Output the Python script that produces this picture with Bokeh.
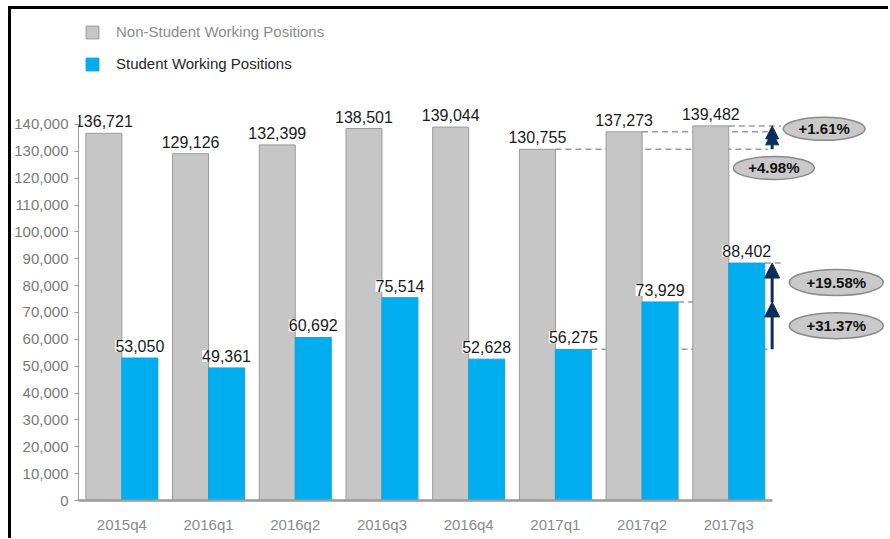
from bokeh.plotting import figure
from bokeh.models import (ColumnDataSource, LabelSet, Legend, LegendItem, FixedTicker,
                          NumeralTickFormatter, CustomJSTickFormatter, Arrow, NormalHead, Range1d)
from bokeh.transform import dodge
from bokeh.embed import file_html
from bokeh.resources import INLINE
from bokeh.core.properties import value

# ---------------- data ----------------
quarters = ["2015q4", "2016q1", "2016q2", "2016q3", "2016q4", "2017q1", "2017q2", "2017q3"]
non_student = [136721, 129126, 132399, 138501, 139044, 130755, 137273, 139482]
student = [53050, 49361, 60692, 75514, 52628, 56275, 73929, 88402]
y_ticks = list(range(0, 140001, 10000))
series_names = ["Non-Student Working Positions", "Student Working Positions"]

FONT = "Liberation Sans"
GRAY = "#c6c6c6"
GRAY_LINE = "#9a9a9a"
BLUE = "#00aeef"
NAVY = "#0c2c5c"
BW = 0.415  # bar width (category units)

n = len(quarters)
xs = list(range(n))

src = ColumnDataSource(dict(
    x=xs, q=quarters, ns=non_student, st=student,
    ns_lbl=[f"{v:,}" for v in non_student],
    st_lbl=[f"{v:,}" for v in student],
))

p = figure(width=888, height=538,
           x_range=Range1d(-0.5, 8.842), y_range=Range1d(0, 181702),
           output_backend="svg", toolbar_location=None,
           min_border_left=78, min_border_right=0, min_border_top=12, min_border_bottom=38)
p.border_fill_alpha = 0
p.styles = {
    "background": "linear-gradient(#000,#000) 8px 6px / 3px calc(100% - 6px) no-repeat, "
                  "linear-gradient(#000,#000) 8px 6px / calc(100% - 8px) 3px no-repeat, white",
}
p.outline_line_color = None
p.grid.visible = False
p.background_fill_color = "white"

# ---------------- dashed reference lines (behind bars) ----------------
last3 = xs[-3:]
seg_x0 = [i for i in last3] + [i + BW for i in last3]
seg_y = non_student[-3:] + student[-3:]
seg_x1 = [last3[-1] + 0.45, last3[-1] + 0.45, last3[-1] + 0.6,
          last3[-1] + 0.45, last3[-1] + 0.45, last3[-1] + 0.6]
p.segment(x0=seg_x0, y0=seg_y, x1=seg_x1, y1=seg_y,
          line_color="#9a9a9a", line_width=1.5, line_dash="6 4")

# ---------------- bars ----------------
g = p.vbar(x=dodge("x", -BW / 2), top="ns", width=BW, source=src,
           fill_color=GRAY, line_color=GRAY_LINE, line_width=1)
b = p.vbar(x=dodge("x", BW / 2), top="st", width=BW, source=src,
           fill_color=BLUE, line_color="#0aa5e0", line_width=1)

# ---------------- value labels ----------------
p.add_layout(LabelSet(x=dodge("x", -BW / 2), y="ns", text="ns_lbl", source=src,
                      y_offset=6, text_align="center", text_baseline="bottom",
                      text_font=value(FONT), text_font_size="16px", text_color="#1a1a1a"))
p.add_layout(LabelSet(x=dodge("x", BW / 2), y="st", text="st_lbl", source=src,
                      y_offset=6, text_align="center", text_baseline="bottom",
                      text_font=value(FONT), text_font_size="16px", text_color="#1a1a1a",
                      background_fill_color="white"))

# ---------------- growth arrows ----------------
ax = last3[-1] + 0.5
pairs = [(non_student[-3], non_student[-2], 13), (non_student[-2], non_student[-1], 13),
         (student[-3], student[-2], 15), (student[-2], student[-1], 15)]
for y0, y1, hs in pairs:
    p.add_layout(Arrow(x_start=ax, y_start=y0, x_end=ax, y_end=y1,
                       line_color=NAVY, line_width=3,
                       end=NormalHead(size=hs, fill_color=NAVY, line_color=NAVY)))

# ---------------- percentage callouts ----------------
def pct(a, b_):
    return f"+{(b_ / a - 1) * 100:.2f}%"

ell_x = [last3[-1] + 1.10, last3[-1] + 0.52, last3[-1] + 1.24, last3[-1] + 1.24]
ell_y = [(non_student[-2] + non_student[-1]) / 2,
         (non_student[-3] + non_student[-2]) / 2 - 10200,
         (student[-2] + student[-1]) / 2,
         (student[-3] + student[-2]) / 2]
ell_t = [pct(non_student[-2], non_student[-1]), pct(non_student[-3], non_student[-2]),
         pct(student[-2], student[-1]), pct(student[-3], student[-2])]
ell_w = [82, 81, 94, 94]
ell_h = [23, 23, 26, 26]
esrc = ColumnDataSource(dict(x=ell_x, y=ell_y, t=ell_t, w=ell_w, h=ell_h))
p.ellipse(x="x", y="y", width="w", height="h", width_units="screen", height_units="screen",
          source=esrc, fill_color="#c9c9c9", line_color="#8a8a8a", line_width=1.5)
p.text(x="x", y="y", text="t", source=esrc, text_align="center", text_baseline="middle",
       text_font=value(FONT), text_font_size="15px", text_font_style="bold", text_color="#111111")

# ---------------- axes ----------------
p.yaxis.ticker = FixedTicker(ticks=y_ticks)
p.yaxis.formatter = NumeralTickFormatter(format="0,0")
p.yaxis.bounds = (0, y_ticks[-1])
p.yaxis.axis_line_color = "#9a9a9a"
p.yaxis.major_tick_line_color = "#9a9a9a"
p.yaxis.major_tick_out = 4
p.yaxis.major_tick_in = 0
p.yaxis.minor_tick_line_color = None
p.yaxis.major_label_text_font = FONT
p.yaxis.major_label_text_font_size = "15px"
p.yaxis.major_label_text_color = "#7a7a7a"
p.yaxis.major_label_standoff = 6

p.xaxis.ticker = FixedTicker(ticks=xs)
p.xaxis.formatter = CustomJSTickFormatter(args=dict(cats=quarters),
                                          code="const i = Math.round(tick); return (i >= 0 && i < cats.length) ? cats[i] : '';")
p.xaxis.bounds = (-0.5, n - 0.5)
p.xaxis.axis_line_color = "#9a9a9a"
p.xaxis.axis_line_width = 2.5
p.xaxis.major_tick_line_color = None
p.xaxis.minor_tick_line_color = None
p.xaxis.major_label_text_font = FONT
p.xaxis.major_label_text_font_size = "15px"
p.xaxis.major_label_text_color = "#8a8a8a"
p.xaxis.major_label_standoff = 9

# ---------------- legends (separate to allow distinct label colours) ----------------
for rend, name, col, loc in [(g, series_names[0], "#8c8c8c", (6, 460)),
                             (b, series_names[1], "#262626", (6, 428))]:
    lg = Legend(items=[LegendItem(label=name, renderers=[rend])], location=loc,
                glyph_width=16, glyph_height=16, label_height=16, label_standoff=16,
                padding=0, margin=0, border_line_color=None, background_fill_alpha=0,
                label_text_font=FONT, label_text_font_size="15px", label_text_color=col)
    p.add_layout(lg)

open("out.html", "w").write(file_html(p, INLINE))
